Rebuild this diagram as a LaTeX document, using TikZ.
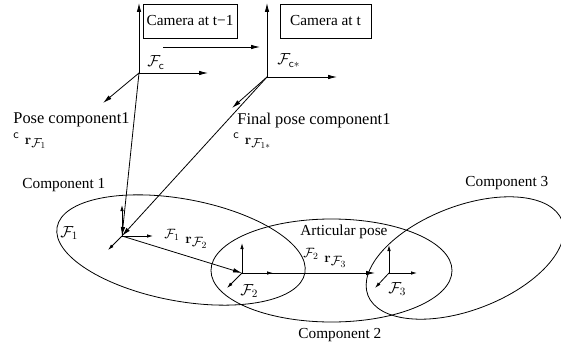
\RequirePackage{fix-cm}
\documentclass[tikz,border=0pt]{standalone}
\usepackage[no-math]{fontspec}
\setmainfont{Liberation Serif}
\usetikzlibrary{arrows.meta}
\newcommand\fsz[2]{{\fontsize{#1}{#1}\selectfont #2}}
\begin{document}
\begin{tikzpicture}[x=1pt,y=-1pt,line width=0.8pt,
  bigax/.style={-{Latex[length=9pt,width=4.5pt]}},
  smallax/.style={-{Latex[length=6pt,width=3.5pt]}},
  vec/.style={-{Latex[length=9pt,width=4.5pt]}},
  cambox/.style={draw,line width=0.8pt,minimum width=94pt,minimum height=34pt,inner sep=0pt,font=\fontsize{15.3}{18}\selectfont},
  lbl/.style={inner sep=0pt,font=\fontsize{15.3}{18}\selectfont},
  poselbl/.style={inner sep=0pt,font=\fontsize{16.4}{19}\selectfont},
  mlbl/.style={inner sep=0pt,anchor=base west,font=\fontsize{16}{19}\selectfont},
  rlbl/.style={inner sep=0pt,anchor=base west,font=\fontsize{14}{17}\selectfont}]
\useasboundingbox (0,0) rectangle (561,350);

% ellipses (components)
\draw[rotate around={-10.5:(181,250)}] (181,250) ellipse [x radius=126, y radius=51];
\draw (331.5,270.5) ellipse [x radius=120.5, y radius=51.5];
\draw[rotate around={21:(465,258)}] (465,258) ellipse [x radius=104, y radius=52];

% camera boxes
\node[cambox] (cam1) at (190,21) {Camera at t−1};
\node[cambox,minimum width=91pt] (cam2) at (325.5,21) {Camera at t};

% frame origins and axis ends
\coordinate (oc) at (139,73);
\coordinate (ocU) at (139,3);
\coordinate (ocR) at (208,73);
\coordinate (ocD) at (103,103);
\coordinate (os) at (267,77);
\coordinate (osU) at (267,3);
\coordinate (osR) at (337,77);
\coordinate (osD) at (232,108);
\coordinate (o1) at (122,236);
\coordinate (o1U) at (122,205);
\coordinate (o1R) at (153,236);
\coordinate (o1D) at (108,250);
\coordinate (o2) at (242,273);
\coordinate (o2U) at (242,243);
\coordinate (o2R) at (273,273);
\coordinate (o2D) at (227,288);
\coordinate (o3) at (389,273);
\coordinate (o3U) at (389,245);
\coordinate (o3R) at (417,273);
\coordinate (o3D) at (375,288);
\coordinate (mA) at (163,47);
\coordinate (mB) at (260,47);

% camera frames
\draw[bigax] (oc) -- (ocU);
\draw[bigax] (oc) -- (ocR);
\draw[bigax] (oc) -- (ocD);
\draw[bigax] (os) -- (osU);
\draw[bigax] (os) -- (osR);
\draw[bigax] (os) -- (osD);
\draw[bigax] (mA) -- (mB);

% component frames
\draw[smallax] (o1) -- (o1U);
\draw[smallax] (o1) -- (o1R);
\draw[smallax] (o1) -- (o1D);
\draw[smallax] (o2) -- (o2U);
\draw[smallax] (o2) -- (o2R);
\draw[smallax] (o2) -- (o2D);
\draw[smallax] (o3) -- (o3U);
\draw[smallax] (o3) -- (o3R);
\draw[smallax] (o3) -- (o3D);

% pose vectors
\draw[vec] (oc) -- (o1);
\draw[vec] (os) -- (o1);
\draw[vec] (o1) -- (o2);
\draw[vec,shorten >=14pt] (o2) -- (o3);

% frame labels
\node[mlbl] (lc) at (147,67) {$\mathcal F_{\mathsf c}$};
\node[mlbl] (ls) at (277,65) {$\mathcal F_{\mathsf c*}$};
\node[mlbl] (l1) at (60,237) {$\mathcal F_1$};
\node[mlbl] (l2) at (240,295) {$\mathcal F_2$};
\node[mlbl] (l3) at (388,293) {$\mathcal F_3$};
\node[rlbl] (l12) at (164,243) {\raisebox{5pt}{\fsz{13.5}{$\mathcal F_1$}}\hspace{6pt}\fsz{14}{$\mathbf r$}\raisebox{-3pt}{\fsz{13.5}{$\mathcal F_2$}}};
\node[rlbl] (l23) at (303,262) {\raisebox{5pt}{\fsz{13.5}{$\mathcal F_2$}}\hspace{6pt}\fsz{14}{$\mathbf r$}\raisebox{-3pt}{\fsz{13.5}{$\mathcal F_3$}}};

% text labels
\node[poselbl,anchor=base west] (pose) at (13,123) {Pose component1};
\node[rlbl] (posem) at (13,144) {\raisebox{6pt}{\fsz{12.5}{$\mathsf c$}}\hspace{6pt}\fsz{14}{$\mathbf r$}\raisebox{-3pt}{\fsz{13}{$\mathcal F_1$}}};
\node[poselbl,anchor=base west] (fpose) at (237,124) {Final pose component1};
\node[rlbl] (fposem) at (233,144) {\raisebox{6pt}{\fsz{12.5}{$\mathsf c$}}\hspace{6pt}\fsz{14}{$\mathbf r$}\raisebox{-3pt}{\fsz{13}{$\mathcal F_{1*}$}}};
\node[lbl,anchor=base west] (c1) at (22,188) {Component 1};
\node[lbl,anchor=base west] (c2) at (298,338) {Component 2};
\node[lbl,anchor=base west] (c3) at (465,186) {Component 3};
\node[lbl,anchor=base west] (art) at (300,235) {Articular pose};
\end{tikzpicture}
\end{document}
